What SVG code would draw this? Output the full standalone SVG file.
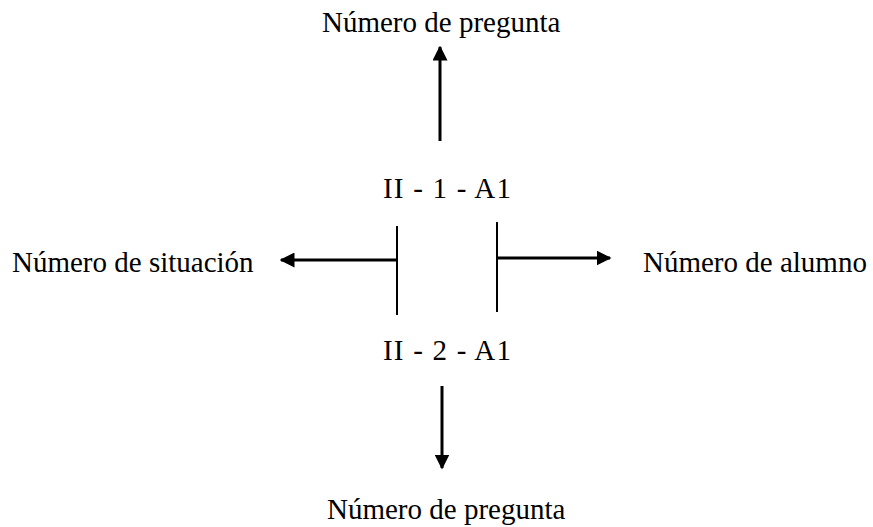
<svg xmlns="http://www.w3.org/2000/svg" width="873" height="527" viewBox="0 0 873 527">
<style>
text{font-family:"Liberation Serif","Times New Roman",serif;font-size:29px;fill:#000}
.ln{stroke:#000;stroke-width:2;fill:none}
.ar{stroke:#000;stroke-width:3;fill:none}
</style>
<defs>
<marker id="ah" viewBox="0 0 10 10" refX="9" refY="5" markerWidth="5" markerHeight="5" markerUnits="strokeWidth" orient="auto">
<path d="M0,0 L10,5 L0,10 z" fill="#000"/>
</marker>
</defs>
<rect width="873" height="527" fill="#fff"/>
<g id="connectors">
<line class="ar" x1="440" y1="141" x2="440" y2="47" marker-end="url(#ah)"/>
<line class="ar" x1="442" y1="386" x2="442" y2="468" marker-end="url(#ah)"/>
<line class="ar" x1="397" y1="260" x2="281" y2="260" marker-end="url(#ah)"/>
<line class="ar" x1="497" y1="258" x2="610" y2="258" marker-end="url(#ah)"/>
<line class="ln" x1="397" y1="226" x2="397" y2="315"/>
<line class="ln" x1="497" y1="222" x2="497" y2="312"/>
</g>
<g id="top"><text x="322" y="32">Número de pregunta</text></g>
<g id="code1"><text x="383" y="198" textLength="128" lengthAdjust="spacing">II - 1 - A1</text></g>
<g id="left"><text x="12" y="272">Número de situación</text></g>
<g id="right"><text x="643" y="272">Número de alumno</text></g>
<g id="code2"><text x="383" y="360" textLength="128" lengthAdjust="spacing">II - 2 - A1</text></g>
<g id="bottom"><text x="327" y="519">Número de pregunta</text></g>
</svg>
